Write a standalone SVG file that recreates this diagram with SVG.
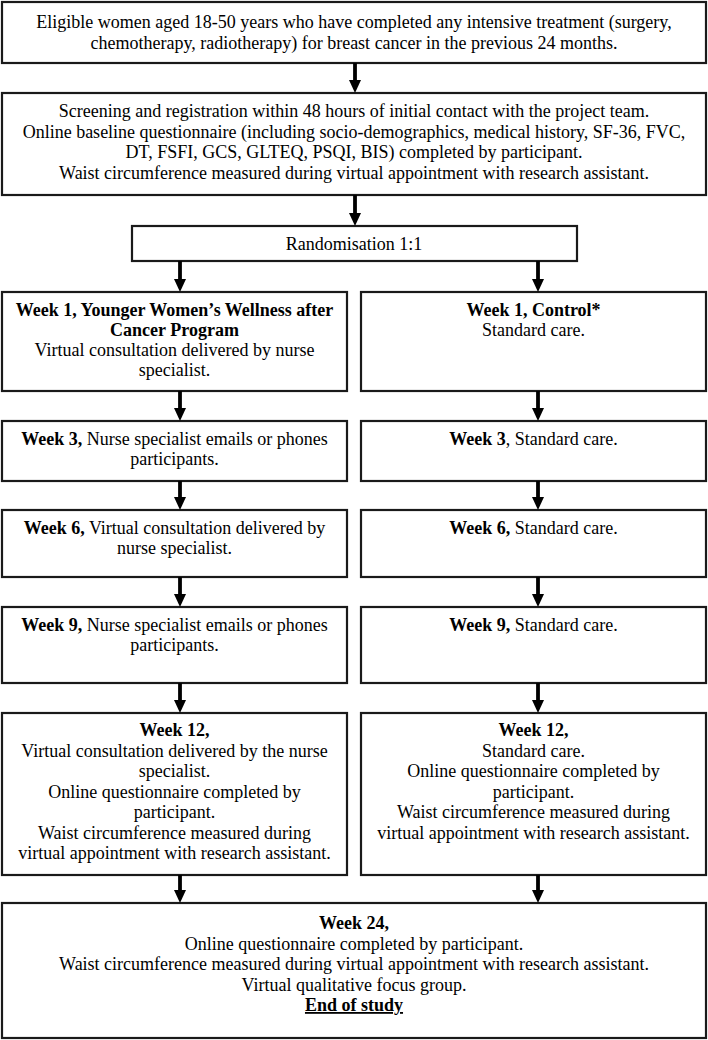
<svg xmlns="http://www.w3.org/2000/svg" width="708" height="1040" viewBox="0 0 708 1040">
<defs>
<style>
.box{fill:#fff;stroke:#1a1a1a;stroke-width:2.2}
text{font-family:"Liberation Serif","Times New Roman",serif;font-size:18px;fill:#000;text-anchor:middle}
.b{font-weight:bold}
.conn line{stroke:#000;stroke-width:3.8}
.conn polygon{fill:#000}
</style>
</defs>
<rect x="0" y="0" width="708" height="1040" fill="#fff"/>
<g id="eligible">
<rect class="box" x="2" y="2" width="704" height="61"/>
<text x="354" y="28">Eligible women aged 18-50 years who have completed any intensive treatment (surgery,</text>
<text x="354" y="49">chemotherapy, radiotherapy) for breast cancer in the previous 24 months.</text>
</g>
<g id="screening">
<rect class="box" x="2" y="93" width="704" height="102"/>
<text x="354" y="117">Screening and registration within 48 hours of initial contact with the project team.</text>
<text x="354" y="137.5">Online baseline questionnaire (including socio-demographics, medical history, SF-36, FVC,</text>
<text x="354" y="158">DT, FSFI, GCS, GLTEQ, PSQI, BIS) completed by participant.</text>
<text x="354" y="178.5">Waist circumference measured during virtual appointment with research assistant.</text>
</g>
<g id="randomisation">
<rect class="box" x="132" y="226" width="445" height="35"/>
<text x="354" y="249.5">Randomisation 1:1</text>
</g>
<g id="int-week1">
<rect class="box" x="2" y="292" width="345" height="99"/>
<text class="b" x="174.5" y="316">Week 1, Younger Women’s Wellness after</text>
<text class="b" x="174.5" y="336">Cancer Program</text>
<text x="174.5" y="356">Virtual consultation delivered by nurse</text>
<text x="174.5" y="376">specialist.</text>
</g>
<g id="ctl-week1">
<rect class="box" x="361" y="292" width="345" height="99"/>
<text class="b" x="533.5" y="316">Week 1, Control*</text>
<text x="533.5" y="336">Standard care.</text>
</g>
<g id="int-week3">
<rect class="box" x="2" y="421" width="345" height="60"/>
<text x="174.5" y="445"><tspan class="b">Week 3,</tspan> Nurse specialist emails or phones</text>
<text x="174.5" y="465">participants.</text>
</g>
<g id="ctl-week3">
<rect class="box" x="361" y="421" width="345" height="60"/>
<text x="533.5" y="445"><tspan class="b">Week 3</tspan>, Standard care.</text>
</g>
<g id="int-week6">
<rect class="box" x="2" y="510" width="345" height="67"/>
<text x="174.5" y="534"><tspan class="b">Week 6,</tspan> Virtual consultation delivered by</text>
<text x="174.5" y="554">nurse specialist.</text>
</g>
<g id="ctl-week6">
<rect class="box" x="361" y="510" width="345" height="67"/>
<text x="533.5" y="534"><tspan class="b">Week 6,</tspan> Standard care.</text>
</g>
<g id="int-week9">
<rect class="box" x="2" y="607" width="345" height="76"/>
<text x="174.5" y="631"><tspan class="b">Week 9,</tspan> Nurse specialist emails or phones</text>
<text x="174.5" y="651">participants.</text>
</g>
<g id="ctl-week9">
<rect class="box" x="361" y="607" width="345" height="76"/>
<text x="533.5" y="631"><tspan class="b">Week 9,</tspan> Standard care.</text>
</g>
<g id="int-week12">
<rect class="box" x="2" y="713" width="345" height="162"/>
<text class="b" x="174.5" y="736">Week 12,</text>
<text x="174.5" y="756.5">Virtual consultation delivered by the nurse</text>
<text x="174.5" y="777">specialist.</text>
<text x="174.5" y="797.5">Online questionnaire completed by</text>
<text x="174.5" y="818">participant.</text>
<text x="174.5" y="838.5">Waist circumference measured during</text>
<text x="174.5" y="859">virtual appointment with research assistant.</text>
</g>
<g id="ctl-week12">
<rect class="box" x="361" y="713" width="345" height="162"/>
<text class="b" x="533.5" y="736">Week 12,</text>
<text x="533.5" y="756.5">Standard care.</text>
<text x="533.5" y="777">Online questionnaire completed by</text>
<text x="533.5" y="797.5">participant.</text>
<text x="533.5" y="818">Waist circumference measured during</text>
<text x="533.5" y="838.5">virtual appointment with research assistant.</text>
</g>
<g id="week24">
<rect class="box" x="2" y="903" width="704" height="135"/>
<text class="b" x="354" y="929">Week 24,</text>
<text x="354" y="949.5">Online questionnaire completed by participant.</text>
<text x="354" y="970">Waist circumference measured during virtual appointment with research assistant.</text>
<text x="354" y="990.5">Virtual qualitative focus group.</text>
<text class="b" x="354" y="1011" text-decoration="underline">End of study</text>
</g>
<g id="connectors" class="conn">
<line x1="355" y1="63" x2="355" y2="82"/><polygon points="349,80 361,80 355,93"/>
<line x1="355" y1="195" x2="355" y2="215"/><polygon points="349,213 361,213 355,226"/>
<line x1="180" y1="261" x2="180" y2="281"/><polygon points="174,279 186,279 180,292"/>
<line x1="538" y1="261" x2="538" y2="281"/><polygon points="532,279 544,279 538,292"/>
<line x1="180" y1="391" x2="180" y2="410"/><polygon points="174,408 186,408 180,421"/>
<line x1="538" y1="391" x2="538" y2="410"/><polygon points="532,408 544,408 538,421"/>
<line x1="180" y1="481" x2="180" y2="499"/><polygon points="174,497 186,497 180,510"/>
<line x1="538" y1="481" x2="538" y2="499"/><polygon points="532,497 544,497 538,510"/>
<line x1="180" y1="577" x2="180" y2="596"/><polygon points="174,594 186,594 180,607"/>
<line x1="538" y1="577" x2="538" y2="596"/><polygon points="532,594 544,594 538,607"/>
<line x1="180" y1="683" x2="180" y2="702"/><polygon points="174,700 186,700 180,713"/>
<line x1="538" y1="683" x2="538" y2="702"/><polygon points="532,700 544,700 538,713"/>
<line x1="180" y1="875" x2="180" y2="892"/><polygon points="174,890 186,890 180,903"/>
<line x1="538" y1="875" x2="538" y2="892"/><polygon points="532,890 544,890 538,903"/>
</g>
</svg>
